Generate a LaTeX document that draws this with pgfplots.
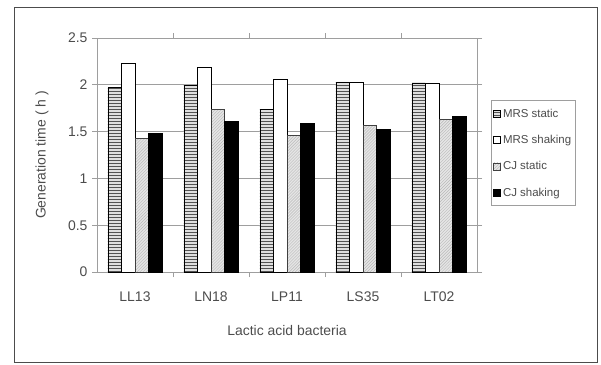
\documentclass[border=0pt]{standalone}
\usepackage{fontspec}
\setmainfont{Liberation Sans}
\usepackage{pgfplots}
\pgfplotsset{compat=1.18}
\usetikzlibrary{patterns}
\definecolor{txt}{gray}{0.3}
\definecolor{gridc}{gray}{0.62}
\begin{document}
\begin{tikzpicture}[x=1bp,y=1bp]
\path (0,0) rectangle (601,364);
\draw[gray!60!black, line width=0.9bp] (14,2) rectangle (597,357);
\begin{axis}[
  at={(97bp,92bp)}, anchor=south west,
  scale only axis, width=380bp, height=234bp,
  ymin=0, ymax=2.5, ytick={0,0.5,...,2.5},
  yticklabels={0,0.5,1,1.5,2,2.5},
  xmin=-0.5, xmax=4.5,
  xtick={0,1,2,3,4},
  xticklabels={LL13,LN18,LP11,LS35,LT02},
  major x tick style={draw=none},
  minor xtick={0.5,1.5,2.5,3.5},
  minor tick length=5bp,
  major tick length=5bp,
  tick align=outside,
  tick style={gridc, line width=0.8bp},
  ymajorgrids, grid style={gridc, line width=0.8bp},
  axis line style={gridc, line width=0.8bp},
  ybar=0pt, bar width=13.6bp,
  font=\fontsize{14}{16}\selectfont,
  ticklabel style={txt},
  /pgf/number format/assume math mode=true,
  xticklabel style={yshift=-11bp},
  yticklabel style={xshift=-1bp},
  xlabel={Lactic acid bacteria},
  ylabel={Generation time ( h )},
  label style={txt},
  xlabel style={at={(axis description cs:0.5,-0.252)}, anchor=center},
  ylabel style={at={(axis description cs:-0.145,0.5)}, anchor=center},
  legend style={at={(axis description cs:1.037,0.733)}, anchor=north west,
    draw=gridc, line width=0.8bp, font=\fontsize{11.5}{13}\selectfont, text=txt,
    row sep=12.5bp, inner xsep=2bp, inner ysep=6bp},
  legend cell align=left,
  legend image code/.code={\draw[#1, line width=0.6bp] (0bp,-3.5bp) rectangle (7bp,3.5bp);},
]
\addplot[draw=black, line width=0.6bp, fill=gray!25, postaction={pattern=horizontal lines, pattern color=gray!65!black}]
  coordinates {(0,1.97) (1,2.00) (2,1.74) (3,2.03) (4,2.02)};
\addplot[draw=black, line width=0.6bp, fill=white]
  coordinates {(0,2.23) (1,2.19) (2,2.06) (3,2.03) (4,2.02)};
\addplot[draw=gray!50!black, line width=0.6bp, fill=gray!20, postaction={pattern=north east lines, pattern color=gray!55}]
  coordinates {(0,1.43) (1,1.74) (2,1.46) (3,1.57) (4,1.63)};
\addplot[draw=black, line width=0.6bp, fill=black]
  coordinates {(0,1.48) (1,1.61) (2,1.59) (3,1.52) (4,1.66)};
\legend{MRS static, MRS shaking, CJ static, CJ shaking}
\end{axis}
\end{tikzpicture}
\end{document}
